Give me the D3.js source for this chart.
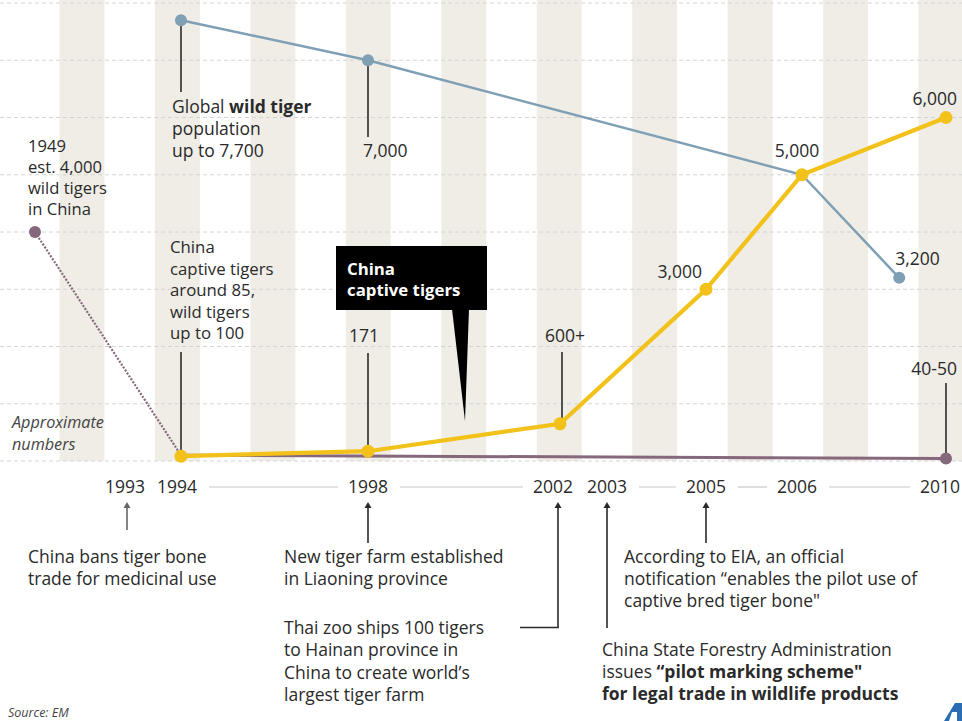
<!DOCTYPE html>
<html>
<head>
<meta charset="utf-8">
<script src="https://cdn.jsdelivr.net/npm/d3@7/dist/d3.min.js"></script>
<style>
  html, body { margin: 0; padding: 0; background: #fff; }
  svg { display: block; font-family: "Open Sans", "Noto Sans", sans-serif; }
</style>
</head>
<body>
<svg id="chart" width="962" height="721"></svg>
<script>
// ---------------- DATA ----------------
const captiveYears  = [1994, 1998, 2002, 2005, 2006, 2010];
const captiveValues = [85, 171, 650, 3000, 5000, 6000];
const captiveLabels = ["", "171", "600+", "3,000", "5,000", "6,000"];

const wildYears  = [1994, 1998, 2006, 2008.7];
const wildValues = [7700, 7000, 5000, 3200];
const wildLabels = ["", "7,000", "", "3,200"];

const chinaWildYears  = [1949, 1994, 2010];
const chinaWildValues = [4000, 100, 45];
const chinaWildLabels = ["", "", "40-50"];

const timelineYears = [1993, 1994, 1998, 2002, 2003, 2005, 2006, 2010];
const gridValues = [0, 1000, 2000, 3000, 4000, 5000, 6000, 7000, 8000];
const stripeYears = [1992, 1994, 1996, 1998, 2000, 2002, 2004, 2006, 2008, 2010];

const topNotes = {
  china1949: [[["1949"]], [["est. 4,000"]], [["wild tigers"]], [["in China"]]],
  global: [[["Global "], ["wild tiger", "b"]], [["population"]], [["up to 7,700"]]],
  captive1994: [[["China"]], [["captive tigers"]], [["around 85,"]], [["wild tigers"]], [["up to 100"]]],
  approx: [[["Approximate"]], [["numbers"]]]
};
const calloutText = ["China", "captive tigers"];

const events = {
  1993: [[["China bans tiger bone"]], [["trade for medicinal use"]]],
  1998: [[["New tiger farm established"]], [["in Liaoning province"]]],
  2002: [[["Thai zoo ships 100 tigers"]], [["to Hainan province in"]], [["China to create world\u2019s"]], [["largest tiger farm"]]],
  2003: [[["China State Forestry Administration"]], [["issues "], ["\u201cpilot marking scheme\"", "b"]], [["for legal trade in wildlife products", "b"]]],
  2005: [[["According to EIA, an official"]], [["notification \u201cenables the pilot use of"]], [["captive bred tiger bone\""]]]
};
const sourceText = "Source: EM";

// ---------------- LAYOUT ----------------
const W = 962, H = 721;
const svg = d3.select("#chart");
const ink = "#2a2a2a";
const FS = 17.5;

const x = d3.scaleLinear()
  .domain([1949, 1993, 1994, 1998, 2002, 2003, 2005, 2006, 2010])
  .range([35, 127, 181, 368, 560, 607, 706, 802, 946]);
const xs = d3.scaleLinear().domain([1992, 2010]).range([82, 941]);
const y = d3.scaleLinear().domain([0, 8000]).range([461, 3]);

// stripes
svg.append("g").selectAll("rect").data(stripeYears).join("rect")
  .attr("x", d => xs(d - 0.47))
  .attr("width", d => xs(d + 0.47) - xs(d - 0.47))
  .attr("y", 0).attr("height", y(0))
  .attr("fill", "#efede6");

// gridlines
svg.append("g").selectAll("line").data(gridValues).join("line")
  .attr("x1", 0).attr("x2", W)
  .attr("y1", d => y(d)).attr("y2", d => y(d))
  .attr("stroke", "#d4d4d4").attr("stroke-width", 1)
  .attr("stroke-dasharray", "4,3");

// multi-line text helper
function multiText(g, lines, x0, y0, lh, opts = {}) {
  const t = g.append("text").attr("x", x0).attr("y", y0)
    .attr("font-size", opts.size || FS).attr("fill", opts.fill || ink)
    .attr("font-style", opts.italic ? "italic" : null)
    .attr("font-weight", opts.weight || null);
  lines.forEach((segs, i) => {
    segs.forEach((s, j) => {
      const ts = t.append("tspan").text(s[0]);
      if (j === 0) ts.attr("x", x0).attr("y", y0 + i * lh);
      if (s[1] === "b") ts.attr("font-weight", 700);
    });
  });
  return t;
}
function vline(g, xx, y1, y2, color) {
  g.append("line").attr("x1", xx).attr("x2", xx).attr("y1", y1).attr("y2", y2)
    .attr("stroke", color || ink).attr("stroke-width", 1.6);
}

const ann = svg.append("g");

// leader lines for the chart annotations
vline(ann, x(wildYears[0]), y(wildValues[0]), 92);
vline(ann, x(wildYears[1]), y(wildValues[1]), 137);
vline(ann, x(captiveYears[0]), 352, y(captiveValues[0]));
vline(ann, x(captiveYears[1]), 353, y(captiveValues[1]));
vline(ann, x(captiveYears[2]) + 2, 352, y(captiveValues[2]));
vline(ann, x(chinaWildYears[2]), 383, y(chinaWildValues[2]));

// series lines
const lineGen = d3.line().x(d => x(d[0])).y(d => y(d[1]));
const chinaPts = chinaWildYears.map((d, i) => [d, chinaWildValues[i]]);
const wildPts = wildYears.map((d, i) => [d, wildValues[i]]);
const captPts = captiveYears.map((d, i) => [d, captiveValues[i]]);

svg.append("path").datum(chinaPts.slice(0, 2)).attr("d", lineGen)
  .attr("fill", "none").attr("stroke", "#85687b").attr("stroke-width", 2.2)
  .attr("stroke-dasharray", "2,1.5");
svg.append("path").datum(chinaPts.slice(1)).attr("d", lineGen)
  .attr("fill", "none").attr("stroke", "#85687b").attr("stroke-width", 3);
svg.append("path").datum(wildPts).attr("d", lineGen)
  .attr("fill", "none").attr("stroke", "#7f9fb4").attr("stroke-width", 2.5);
svg.append("path").datum(captPts).attr("d", lineGen)
  .attr("fill", "none").attr("stroke", "#f2c21b").attr("stroke-width", 4.2);

// dots
svg.append("g").selectAll("circle").data([chinaPts[0], chinaPts[2]]).join("circle")
  .attr("cx", d => x(d[0])).attr("cy", d => y(d[1])).attr("r", 6).attr("fill", "#85687b");
svg.append("g").selectAll("circle").data(wildPts).join("circle")
  .attr("cx", d => x(d[0])).attr("cy", d => y(d[1])).attr("r", 6).attr("fill", "#7f9fb4");
svg.append("g").selectAll("circle").data(captPts).join("circle")
  .attr("cx", d => x(d[0])).attr("cy", d => y(d[1])).attr("r", 6.5).attr("fill", "#f2c21b");

// value labels
const labelLayout = {
  "7,000": {dx: -5, by: 157, a: "start"},
  "3,200": {dx: -4, by: 265, a: "start"},
  "171":   {dx: -4, by: 342, a: "middle"},
  "600+":  {dx: 5,  by: 342, a: "middle"},
  "3,000": {dx: -4, by: 278, a: "end"},
  "5,000": {dx: -5, by: 157, a: "middle"},
  "6,000": {dx: 11, by: 105, a: "end"},
  "40-50": {dx: 11, by: 375, a: "end"}
};
const allLabels = [];
captiveYears.forEach((d, i) => captiveLabels[i] && allLabels.push([d, captiveLabels[i]]));
wildYears.forEach((d, i) => wildLabels[i] && allLabels.push([d, wildLabels[i]]));
chinaWildYears.forEach((d, i) => chinaWildLabels[i] && allLabels.push([d, chinaWildLabels[i]]));
svg.append("g").selectAll("text").data(allLabels).join("text")
  .attr("x", d => x(d[0]) + labelLayout[d[1]].dx)
  .attr("y", d => labelLayout[d[1]].by)
  .attr("text-anchor", d => labelLayout[d[1]].a)
  .attr("font-size", FS).attr("fill", ink)
  .text(d => d[1]);

// text blocks in the chart
multiText(ann, topNotes.china1949, 28, 152, 21, {size: 16.6});
multiText(ann, topNotes.global, 172, 113, 22);
multiText(ann, topNotes.captive1994, 170, 253, 21.5, {size: 16.8});
multiText(ann, topNotes.approx, 12, 428, 22, {italic: true, size: 16.2, fill: "#444"});

// callout
const call = svg.append("g");
call.append("path")
  .attr("d", d3.line()([[452, 309], [469, 309], [465, 421]]))
  .attr("fill", "#000");
call.append("rect").attr("x", 336).attr("y", 246).attr("width", 151).attr("height", 64).attr("fill", "#000");
multiText(call, calloutText.map(s => [[s]]), 347, 275, 21.3, {fill: "#fff", weight: 700, size: 16.8});

// timeline
const tl = svg.append("g");
const tlY = 493;
const tlNudge = {1993: -2, 1994: -4, 2002: -7, 2006: -5};
const tlTexts = tl.selectAll("text").data(timelineYears).join("text")
  .attr("x", d => Math.min(x(d) + (tlNudge[d] || 0), W - 22))
  .attr("y", tlY).attr("text-anchor", "middle")
  .attr("font-size", FS).attr("fill", ink)
  .text(d => d);
const boxes = tlTexts.nodes().map(n => n.getBBox());
for (let i = 0; i < boxes.length - 1; i++) {
  const a = boxes[i].x + boxes[i].width + 12, b = boxes[i + 1].x - 10;
  if (b - a > 20) {
    tl.append("line").attr("x1", a).attr("x2", b).attr("y1", 487).attr("y2", 487)
      .attr("stroke", "#c8c8c8").attr("stroke-width", 1.2);
  }
}

// event arrows
function arrowUp(g, xx, yTop, yBot, color) {
  vline(g, xx, yTop + 4, yBot, color);
  g.append("path").attr("d", d3.line()([[xx - 3.5, yTop + 6], [xx + 3.5, yTop + 6], [xx, yTop]]))
    .attr("fill", color || ink);
}
const ev = svg.append("g");
arrowUp(ev, x(1993), 502, 530, "#666");
arrowUp(ev, x(1998), 502, 543);
arrowUp(ev, x(2002) - 2, 502, 628);
ev.append("line").attr("x1", 520).attr("x2", x(2002) - 1.2).attr("y1", 627.5).attr("y2", 627.5)
  .attr("stroke", ink).attr("stroke-width", 1.6);
arrowUp(ev, x(2003), 502, 628);
arrowUp(ev, x(2005), 502, 543);

multiText(ev, events[1993], 28, 563, 22);
multiText(ev, events[1998], 284, 563, 22);
multiText(ev, events[2002], 284, 634, 22.3);
multiText(ev, events[2005], 624, 563, 22);
multiText(ev, events[2003], 602, 656, 22);

svg.append("text").attr("x", 8).attr("y", 717).attr("font-size", 12.5)
  .attr("font-style", "italic").attr("fill", "#444").text(sourceText);

// clipped corner logo mark (shape, partly outside the frame as in the reference)
svg.append("path")
  .attr("d", d3.line()([[944, 721], [955, 703], [962, 703], [962, 721], [957, 721], [957, 712], [952, 712], [949, 721]]))
  .attr("fill", "#2a6db3");
</script>
</body>
</html>
